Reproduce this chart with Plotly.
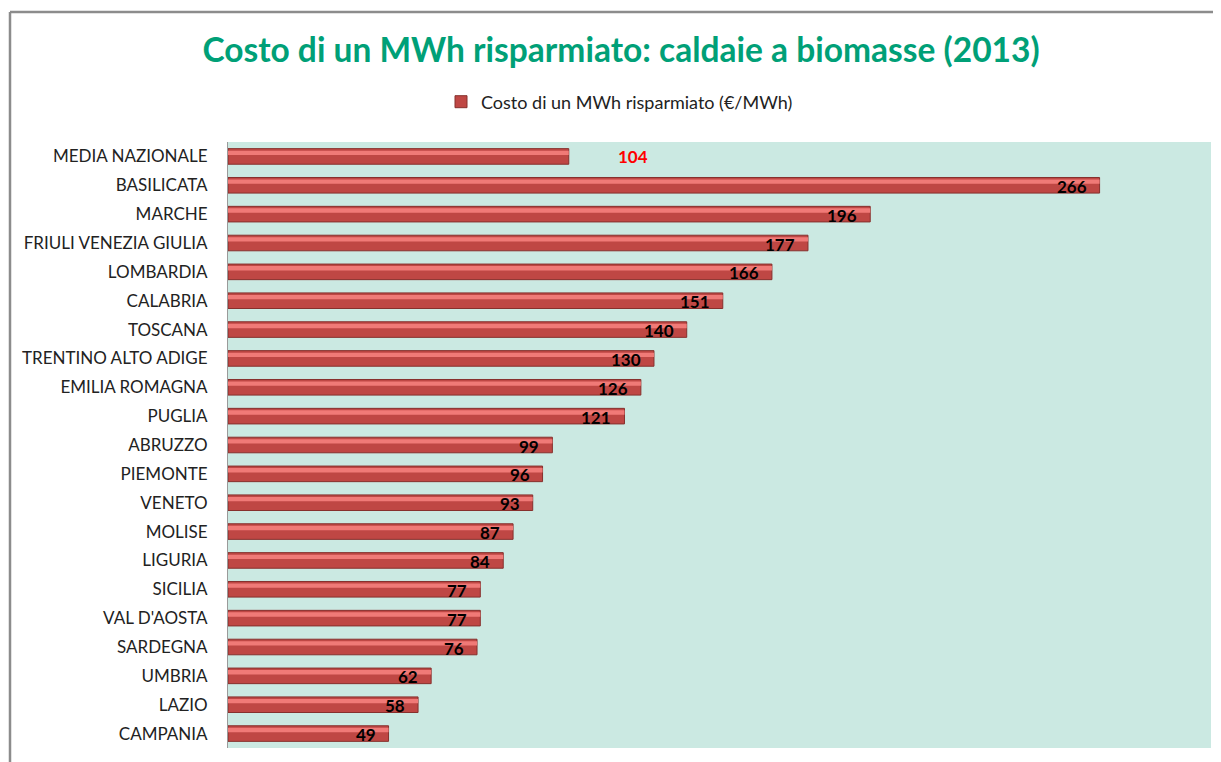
import plotly.graph_objects as go

regions = ["MEDIA NAZIONALE", "BASILICATA", "MARCHE", "FRIULI VENEZIA GIULIA", "LOMBARDIA",
           "CALABRIA", "TOSCANA", "TRENTINO ALTO ADIGE", "EMILIA ROMAGNA", "PUGLIA",
           "ABRUZZO", "PIEMONTE", "VENETO", "MOLISE", "LIGURIA", "SICILIA",
           "VAL D'AOSTA", "SARDEGNA", "UMBRIA", "LAZIO", "CAMPANIA"]
costs = [104, 266, 196, 177, 166, 151, 140, 130, 126, 121, 99, 96, 93, 87, 84, 77, 77, 76, 62, 58, 49]
series_name = "Costo di un MWh risparmiato (€/MWh)"
title_text = "Costo di un MWh risparmiato: caldaie a biomasse (2013)"

# page body has an 8px margin -> figure is drawn 8px shifted; compensate
OFF = 8
W, H = 1221 - OFF, 762 - OFF
L, R, T, B = 228 - OFF, 10, 142 - OFF, 14
pw, ph = W - L - R, H - T - B

FONT = "Lato, Open Sans, sans-serif"
avg_idx = regions.index("MEDIA NAZIONALE")

fig = go.Figure()
# base (shadowed) bar
fig.add_trace(go.Bar(
    y=regions, x=costs, orientation="h", name=series_name,
    width=0.54,
    marker=dict(color="#BF4744", line=dict(color="#86302D", width=1)),
    showlegend=True,
))
# highlight band for glossy look
fig.add_trace(go.Bar(
    y=regions, x=costs, orientation="h", name="hl",
    width=0.15, offset=-0.2,
    marker=dict(color="#F07A77", line=dict(width=0)),
    hoverinfo="skip", showlegend=False,
))

# value labels at inside end of bars
for i, (r, v) in enumerate(zip(regions, costs)):
    if i == avg_idx:
        fig.add_annotation(x=v, y=r, text="<b>%d</b>" % v, showarrow=False,
                           xanchor="center", xshift=64, yshift=0,
                           font=dict(family=FONT, size=17, color="#FF0000"))
    else:
        fig.add_annotation(x=v, y=r, text="<b>%d</b>" % v, showarrow=False,
                           xanchor="right", xshift=-11, yshift=-1,
                           font=dict(family=FONT, size=17, color="black"))

# outer border (top & left)
x0 = -(L - (10 - OFF)) / pw
ytop = 1 + (T - (12 - OFF)) / ph
fig.add_shape(type="line", xref="paper", yref="paper", x0=x0, x1=(W - L) / pw + 0.01, y0=ytop, y1=ytop,
              line=dict(color="#8C8C8C", width=2.5))
fig.add_shape(type="line", xref="paper", yref="paper", x0=x0, x1=x0, y0=ytop, y1=-B / ph - 0.02,
              line=dict(color="#8C8C8C", width=2.5))

fig.update_layout(
    width=W, height=H,
    margin=dict(l=L, r=R, t=T, b=B),
    paper_bgcolor="white", plot_bgcolor="#CBE9E2",
    barmode="overlay", bargap=0.5,
    title=dict(text=title_text, x=(621 - OFF) / W, xref="container", xanchor="center",
               y=1 - (50 - OFF) / H, yanchor="middle",
               font=dict(family=FONT, size=33.5, color="#00A077", weight="bold")),
    legend=dict(orientation="h", x=(441 - OFF) / W, xref="container",
                xanchor="left", y=1 - (102 - OFF) / H, yref="container", yanchor="middle",
                font=dict(family=FONT, size=18, color="#222222"),
                itemwidth=30, bgcolor="rgba(0,0,0,0)"),
    font=dict(family=FONT),
)
fig.update_xaxes(range=[0, 300], visible=False, showgrid=False)
fig.update_yaxes(range=[len(regions) - 0.5, -0.5], categoryorder="array", categoryarray=regions,
                 showgrid=False, showline=True, linecolor="#9A9A9A", linewidth=1,
                 ticks="", ticklabelstandoff=16,
                 tickfont=dict(family=FONT, size=17, color="#222222"))

fig.write_html("out.html")
